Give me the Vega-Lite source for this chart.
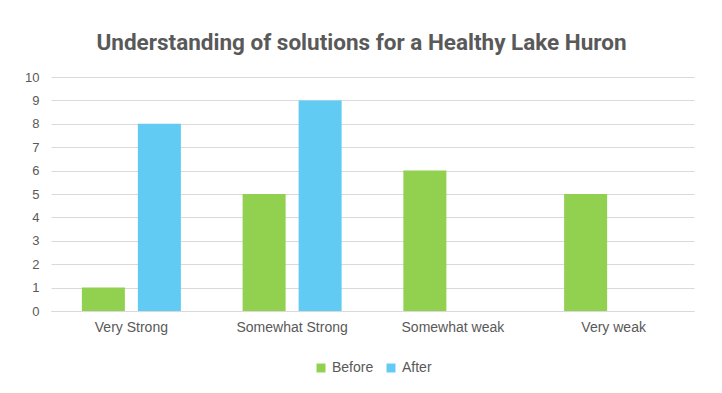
{
  "$schema": "https://vega.github.io/schema/vega-lite/v6.json",
  "width": 643,
  "height": 234,
  "padding": {"left": 24, "top": 31, "right": 10, "bottom": 5},
  "background": "white",
  "title": {
    "text": "Understanding of solutions for a Healthy Lake Huron",
    "font": "Roboto",
    "fontSize": 22.5,
    "fontWeight": "bold",
    "color": "#595959",
    "anchor": "middle",
    "dx": -11,
    "offset": 17
  },
  "data": {
    "values": [
      {"category": "Very Strong", "period": "Before", "count": 1},
      {"category": "Very Strong", "period": "After", "count": 8},
      {"category": "Somewhat Strong", "period": "Before", "count": 5},
      {"category": "Somewhat Strong", "period": "After", "count": 9},
      {"category": "Somewhat weak", "period": "Before", "count": 6},
      {"category": "Somewhat weak", "period": "After", "count": 0},
      {"category": "Very weak", "period": "Before", "count": 5},
      {"category": "Very weak", "period": "After", "count": 0}
    ]
  },
  "mark": {"type": "bar"},
  "encoding": {
    "x": {
      "field": "category",
      "type": "nominal",
      "sort": ["Very Strong", "Somewhat Strong", "Somewhat weak", "Very weak"],
      "scale": {"paddingInner": 0.384, "paddingOuter": 0.192},
      "axis": {
        "title": null,
        "labelAngle": 0,
        "ticks": false,
        "labelPadding": 9,
        "labelFont": "Liberation Sans",
        "labelFontSize": 14,
        "labelColor": "#595959",
        "domainColor": "#d9d9d9",
        "grid": false
      }
    },
    "xOffset": {
      "field": "period",
      "type": "nominal",
      "sort": ["Before", "After"],
      "scale": {"paddingInner": 0.232, "paddingOuter": 0}
    },
    "y": {
      "field": "count",
      "type": "quantitative",
      "scale": {"domain": [0, 10], "nice": false},
      "axis": {
        "title": null,
        "values": [0,1,2,3,4,5,6,7,8,9,10],
        "labelOverlap": false,
        "labelFlush": false,
        "ticks": false,
        "domain": false,
        "labelPadding": 12,
        "labelFont": "Liberation Sans",
        "labelFontSize": 13,
        "labelColor": "#595959",
        "gridColor": "#d9d9d9"
      }
    },
    "color": {
      "field": "period",
      "type": "nominal",
      "sort": ["Before", "After"],
      "scale": {"domain": ["Before", "After"], "range": ["#92D050", "#61CBF3"]},
      "legend": {
        "title": null,
        "orient": "bottom",
        "direction": "horizontal",
        "symbolType": "square",
        "symbolSize": 80,
        "symbolStrokeWidth": 0,
        "labelFont": "Liberation Sans",
        "labelFontSize": 14,
        "labelColor": "#595959",
        "columnPadding": 10,
        "offset": 27
      }
    }
  },
  "config": {
    "view": {"stroke": null},
    "legend": {"layout": {"bottom": {"anchor": "middle"}}}
  }
}
